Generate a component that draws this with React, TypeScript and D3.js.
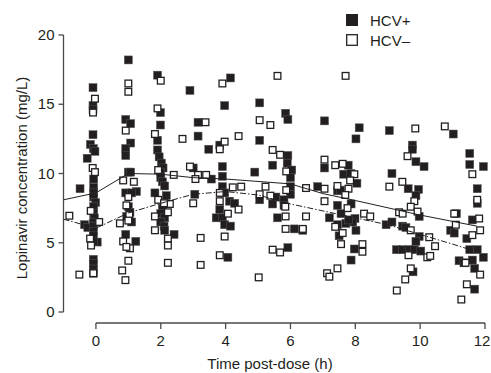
import React from "react";
import * as d3 from "d3";

// HCV+ (filled squares): [time post-dose (h), concentration (mg/L)]
const hcvPos: [number, number][] = [
  [-0.09, 16.2], [-0.09, 14.9], [-0.09, 14.6], [-0.09, 12.8], [-0.17, 12.1], [-0.08, 11.8], [-0.03, 11.6], [-0.27, 11.1],
  [-0.07, 9.6], [-0.07, 9.0], [-0.49, 8.9], [-0.07, 8.6], [-0.07, 8.3], [-0.01, 7.9], [-0.07, 7.6], [-0.07, 7.1], [-0.05, 6.8],
  [-0.35, 6.3], [-0.25, 6.1], [-0.08, 6.45], [-0.08, 6.2], [-0.08, 5.8], [-0.08, 5.5], [0.04, 5.05], [-0.08, 5.1],
  [-0.08, 3.8], [-0.08, 3.5], [-0.08, 3.1], [-0.08, 2.8],
  [1.0, 18.2], [0.92, 13.9], [1.07, 13.6], [1.07, 12.2], [0.92, 11.8], [0.92, 11.3], [1.0, 10.1], [1.07, 10.1],
  [0.92, 8.6], [1.25, 8.7], [1.1, 8.6], [1.0, 7.6], [1.05, 7.2], [0.95, 6.9], [1.1, 6.5], [0.92, 5.6], [1.23, 5.1],
  [1.9, 17.1], [1.99, 14.4], [1.99, 13.5], [1.9, 12.4], [1.9, 11.7], [1.95, 11.2], [2.02, 10.75], [2.07, 10.4], [2.0, 10.1],
  [2.0, 9.7], [2.05, 9.4], [2.12, 9.1], [1.82, 8.6], [2.17, 8.4], [2.05, 7.5], [2.0, 7.1], [2.12, 6.8], [2.0, 6.5],
  [2.1, 6.2], [2.12, 5.9], [2.41, 5.6],
  [2.9, 16.0], [3.15, 13.7], [3.15, 12.7], [3.0, 10.4], [3.05, 8.5], [3.48, 11.75], [3.56, 9.6],
  [4.15, 16.9], [3.97, 14.9], [3.82, 12.05], [3.9, 10.5], [3.9, 9.8], [3.9, 9.05], [3.97, 8.6], [4.12, 8.0], [4.28, 7.85],
  [3.82, 7.4], [3.71, 6.8], [3.9, 6.8], [3.97, 6.3], [4.15, 6.2], [4.07, 3.95],
  [5.05, 15.1], [5.05, 12.4], [4.9, 10.1], [5.05, 8.1],
  [5.85, 14.35], [5.92, 13.9], [5.92, 11.3], [5.9, 10.75], [6.04, 10.25], [5.45, 10.6], [6.0, 9.7], [6.0, 9.05], [6.0, 8.5],
  [5.55, 8.3], [5.8, 8.1], [5.45, 7.8], [5.8, 7.7], [5.6, 6.8], [6.12, 6.0], [6.38, 5.9], [5.92, 4.65],
  [7.05, 13.8], [7.05, 10.4], [6.84, 9.05], [7.2, 6.8], [7.45, 7.7], [7.56, 7.1], [7.45, 6.3], [7.5, 5.5], [7.45, 8.75],
  [8.12, 13.3], [8.02, 12.5], [7.78, 10.6], [7.64, 9.95], [7.86, 10.0], [8.05, 9.3], [7.54, 8.8], [7.87, 7.8], [7.99, 6.75],
  [7.92, 6.5], [7.71, 6.4], [8.02, 5.9], [7.79, 6.65], [7.97, 4.55], [7.87, 3.75],
  [9.05, 13.1], [9.76, 12.05], [9.76, 11.75], [9.87, 10.85], [10.12, 10.5], [9.13, 10.0], [9.63, 8.9], [9.95, 8.85],
  [9.87, 8.4], [9.97, 6.9], [8.95, 6.3], [9.13, 6.5], [9.46, 6.2], [9.56, 6.1], [9.97, 5.45], [9.87, 5.1], [9.27, 4.5],
  [9.46, 4.5], [9.66, 4.5], [9.82, 4.5], [10.02, 4.4], [9.78, 2.9],
  [11.02, 12.85], [11.53, 11.45], [11.53, 10.65], [11.95, 10.5], [11.76, 8.9], [11.76, 7.85], [11.12, 7.1], [11.61, 6.65],
  [10.94, 5.9], [11.05, 5.7], [11.44, 5.3], [11.53, 4.5], [11.76, 4.5], [11.95, 3.95], [11.2, 3.7], [11.35, 3.55],
  [11.61, 3.75], [11.68, 3.15], [11.68, 1.65],
];

// HCV- (open squares)
const hcvNeg: [number, number][] = [
  [-0.82, 6.95], [-0.51, 2.7], [-0.03, 15.4], [-0.09, 14.4], [-0.1, 10.4], [-0.03, 10.1], [-0.16, 7.3], [0.1, 6.5],
  [-0.18, 5.3], [-0.15, 4.8], [-0.08, 2.8],
  [1.0, 16.5], [1.0, 15.9], [0.92, 13.1], [0.84, 9.5], [1.17, 9.4], [1.0, 8.3], [0.94, 7.7], [1.03, 7.0], [1.0, 6.6],
  [0.74, 6.4], [0.84, 5.1], [1.05, 4.6], [0.94, 4.7], [1.0, 3.7], [0.81, 3.0], [0.91, 2.3],
  [2.0, 16.7], [1.9, 14.7], [1.82, 12.85], [2.67, 12.5], [2.9, 10.5], [2.4, 9.9], [1.92, 10.25], [1.92, 8.1], [2.28, 7.8],
  [2.1, 7.85], [2.22, 7.2], [1.82, 6.9], [1.82, 5.9], [2.22, 5.3], [2.22, 4.8], [2.22, 3.55],
  [3.38, 13.7], [3.15, 9.9], [3.4, 9.9], [3.07, 9.6], [3.0, 7.85], [3.23, 5.35], [3.23, 3.4],
  [3.9, 16.5], [4.4, 12.7], [3.97, 12.3], [3.82, 11.75], [4.22, 9.0], [4.48, 9.05], [3.82, 8.6], [3.82, 8.0], [4.4, 7.4],
  [4.07, 7.1], [3.97, 5.45], [3.82, 4.1],
  [5.6, 17.05], [5.05, 13.85], [5.38, 13.5], [5.45, 11.7], [5.68, 11.35], [5.87, 10.15], [5.23, 9.05], [5.05, 8.5],
  [5.38, 8.4], [5.87, 8.8], [5.84, 7.6], [5.85, 6.9], [5.85, 6.0], [5.45, 4.5], [5.68, 4.3], [5.02, 2.5],
  [6.48, 8.95], [7.05, 8.9], [6.48, 6.9], [6.38, 6.0], [7.05, 11.0], [7.38, 10.6], [7.61, 10.7], [7.05, 8.0], [7.7, 17.05],
  [7.45, 9.1], [7.38, 6.15], [7.61, 5.7], [7.56, 4.9], [7.45, 3.15], [7.13, 2.8], [7.2, 2.55],
  [7.97, 9.95], [7.84, 9.5], [7.79, 8.9], [7.69, 8.45], [7.76, 7.5], [8.27, 7.1], [8.46, 6.9], [8.22, 4.9], [8.22, 4.35],
  [9.85, 13.25], [9.61, 11.25], [9.45, 9.4], [9.05, 9.05], [9.82, 8.0], [9.71, 7.6], [9.92, 7.25], [9.35, 7.2], [9.46, 7.1],
  [9.71, 5.9], [10.28, 5.4], [10.46, 4.75], [9.64, 4.1], [10.22, 3.95], [10.31, 4.05], [9.71, 3.15], [9.54, 2.35], [9.28, 1.55],
  [10.76, 13.4], [11.61, 9.95], [11.76, 8.1], [11.05, 7.1], [11.1, 6.3], [11.82, 6.75], [11.85, 5.9], [11.61, 5.55],
  [11.4, 3.55], [11.85, 2.7], [11.44, 2.0], [11.27, 0.9],
];

// Smoothed trend lines
const trendPos: [number, number][] = [
  [-1, 8.1], [0, 8.6], [1, 10.0], [2, 9.95], [3, 9.7], [4, 9.6], [6, 9.25], [7, 8.55], [8, 8.05], [10, 7.0], [11.75, 6.2],
];
const trendNeg: [number, number][] = [
  [-1, 6.7], [0, 6.05], [1, 7.15], [2, 7.85], [3, 8.5], [4, 8.7], [5, 8.45], [6, 7.8], [7, 7.3], [8, 6.8], [9, 6.3],
  [10, 5.6], [11, 4.9], [11.75, 4.35],
];

const xTicks = [0, 2, 4, 6, 8, 10, 12];
const yTicks = [0, 5, 10, 15, 20];
const legendLabels = ["HCV+", "HCV\u2013"];

const W = 491;
const H = 373;
const INK = "#231f20";
const FONT = "'Liberation Sans', Arial, sans-serif";

export default function App() {
  const x = d3.scaleLinear().domain([-1, 12]).range([63.5, 485]);
  const y = d3.scaleLinear().domain([0, 20]).range([312, 35]);
  const axisY = 323;
  const ms = 8;
  const line = d3
    .line<[number, number]>()
    .x((d) => x(d[0]))
    .y((d) => y(d[1]));

  return (
    <svg
      width={W}
      height={H}
      style={{ position: "absolute", left: 0, top: 0, background: "#fff" }}
      fontFamily={FONT}
    >
      <rect x={0} y={0} width={W} height={H} fill="#fff" />
      {/* Y axis */}
      <line x1={x(-1)} x2={x(-1)} y1={y(20)} y2={y(0)} stroke="#4a4a4a" strokeWidth={1.3} />
      {yTicks.map((t) => (
        <g key={"y" + t}>
          <line x1={x(-1) - 5} x2={x(-1)} y1={y(t)} y2={y(t)} stroke="#4a4a4a" strokeWidth={1.3} />
          <text x={x(-1) - 9} y={y(t) + 5} textAnchor="end" fontSize={15} fill={INK}>
            {t}
          </text>
        </g>
      ))}
      {/* X axis */}
      <line x1={x(0)} x2={x(12)} y1={axisY} y2={axisY} stroke="#4a4a4a" strokeWidth={1.3} />
      {xTicks.map((t) => (
        <g key={"x" + t}>
          <line x1={x(t)} x2={x(t)} y1={axisY} y2={axisY + 6} stroke="#4a4a4a" strokeWidth={1.3} />
          <text x={Math.min(x(t), W - 9)} y={346} textAnchor="middle" fontSize={15} fill={INK}>
            {t}
          </text>
        </g>
      ))}
      <text x={270} y={369} textAnchor="middle" fontSize={15} fill={INK}>
        Time post-dose (h)
      </text>
      <text
        transform={`translate(27,178) rotate(-90)`}
        textAnchor="middle"
        fontSize={15}
        fill={INK}
      >
        Lopinavir concentration (mg/L)
      </text>

      {/* points */}
      {hcvPos.map((d, i) => (
        <rect
          key={"p" + i}
          x={x(d[0]) - ms / 2}
          y={y(d[1]) - ms / 2}
          width={ms}
          height={ms}
          fill={INK}
          stroke="#555"
          strokeWidth={0.5}
        />
      ))}
      {hcvNeg.map((d, i) => (
        <rect
          key={"n" + i}
          x={x(d[0]) - (ms - 1.3) / 2}
          y={y(d[1]) - (ms - 1.3) / 2}
          width={ms - 1.3}
          height={ms - 1.3}
          fill="#fff"
          stroke={INK}
          strokeWidth={1.3}
        />
      ))}

      {/* trend lines */}
      <path d={line(trendPos) || ""} fill="none" stroke={INK} strokeWidth={1} />
      <path d={line(trendNeg) || ""} fill="none" stroke={INK} strokeWidth={1} strokeDasharray="6,2,1.5,2" />

      {/* legend */}
      <rect x={346} y={14} width={12} height={12} fill={INK} />
      <text x={370} y={26} fontSize={15} fill={INK}>
        {legendLabels[0]}
      </text>
      <rect x={346.7} y={34.7} width={10.6} height={10.6} fill="#fff" stroke={INK} strokeWidth={1.3} />
      <text x={370} y={46} fontSize={15} fill={INK}>
        {legendLabels[1]}
      </text>
    </svg>
  );
}
